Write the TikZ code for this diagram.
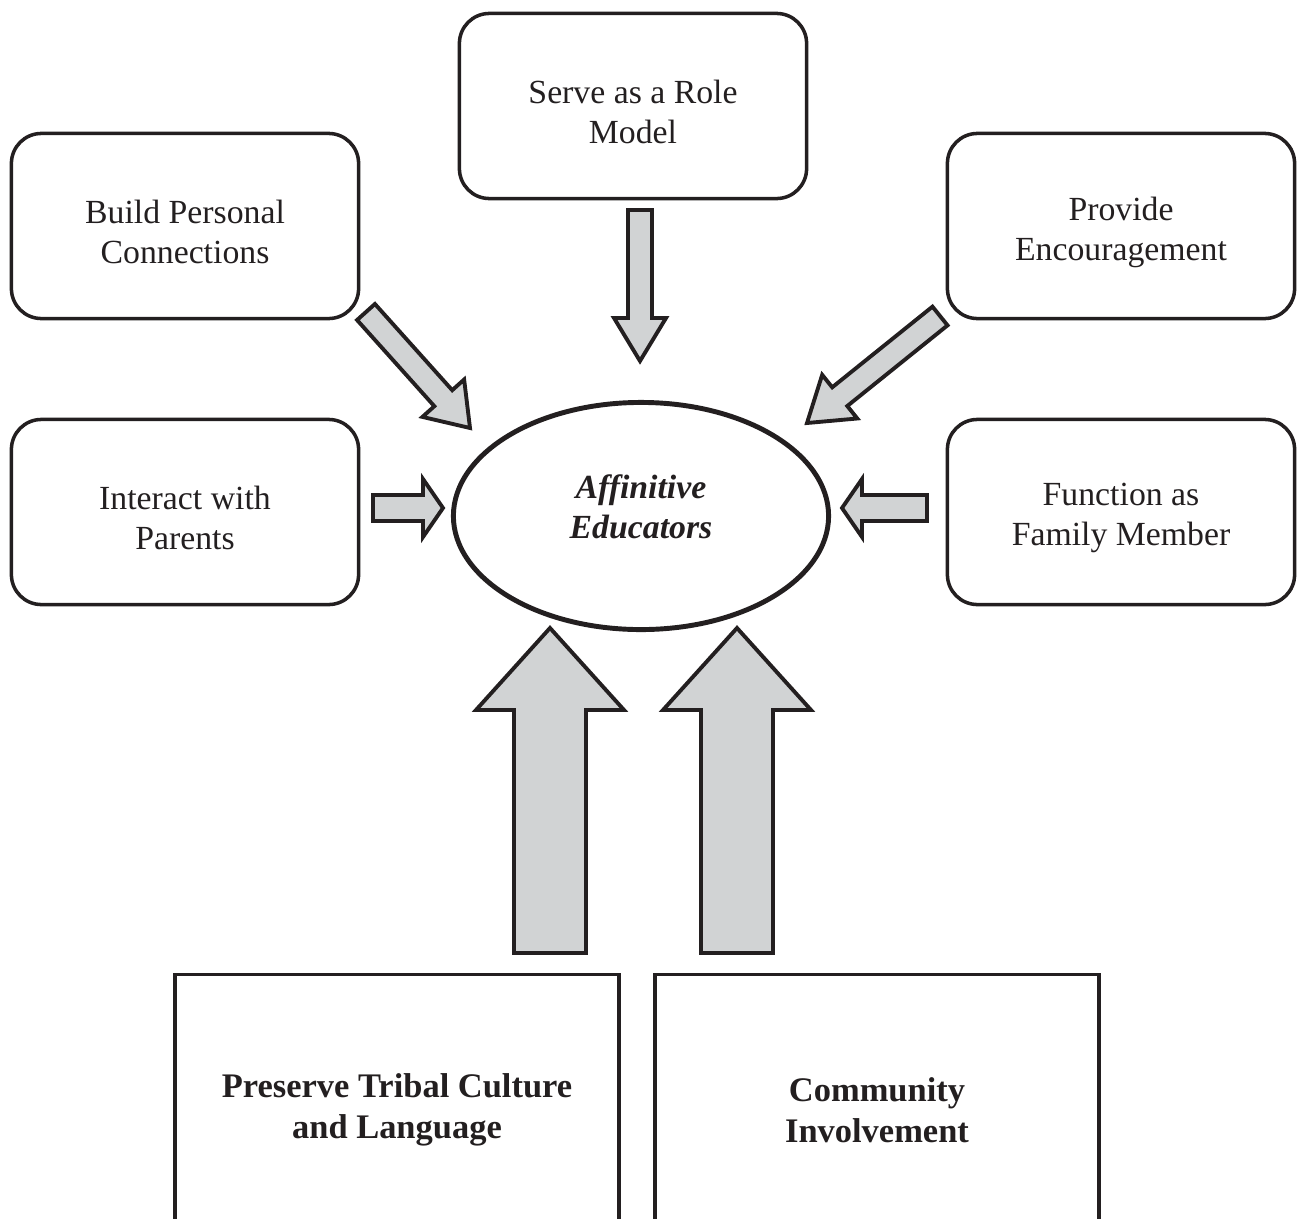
\documentclass[tikz,border=0pt]{standalone}
\usepackage{fontspec}
\setmainfont{Liberation Serif}
\usetikzlibrary{calc,shapes.geometric}
\definecolor{ink}{HTML}{231F20}
\definecolor{pale}{HTML}{D1D3D4}

% block arrow: tail, tip, half shaft width, half head width, head length
\newcommand{\blockarrow}[5]{%
  \coordinate (hb) at ($(#2)!#5!(#1)$);
  \draw[barrow] ($(#1)!#3!90:(#2)$) -- ($(hb)!#3!-90:(#1)$) -- ($(hb)!#4!-90:(#1)$) -- (#2)
    -- ($(hb)!#4!90:(#1)$) -- ($(hb)!#3!90:(#1)$) -- ($(#1)!#3!-90:(#2)$) -- cycle;}

\begin{document}
\begin{tikzpicture}[x=0.01cm, y=-0.01cm, every node/.style={font=\fontsize{9.6}{11.4}\selectfont, text=ink}, box/.style={draw=ink, line width=1pt, rounded corners=3mm, minimum width=3.47cm, minimum height=1.85cm, label={[align=center, yshift=-0.06cm]center:#1}}, basebox/.style={draw=ink, line width=1.1pt, minimum width=4.44cm, minimum height=2.71cm, align=center, font=\fontsize{9.8}{11.6}\selectfont\bfseries}, barrow/.style={draw=ink, line width=1.1pt, fill=pale, line join=miter}]
\useasboundingbox (0,0) rectangle (1303,1218);
\clip (0,0) rectangle (1303,1218);
\node[box={Serve as a Role\\Model}] (role) at (633,106) {};
\node[box={Build Personal\\Connections}] (build) at (185,226) {};
\node[box={Provide\\Encouragement}] (provide) at (1121,226) {};
\node[box={Interact with\\Parents}] (parents) at (185,512) {};
\node[box={Function as\\Family Member}] (family) at (1121,512) {};
\node[ellipse, draw=ink, line width=1.4pt, minimum width=3.75cm, minimum height=2.27cm, inner sep=0pt, label={[align=center, yshift=0.09cm, font=\fontsize{9.6}{11.4}\selectfont\bfseries\itshape]center:Affinitive\\Educators}] (ae) at (641,516) {};
\node[basebox] (tribal) at (397,1110) {Preserve Tribal Culture\\and Language};
\node[basebox] (community) at (877,1110) {Community\\Involvement};
% arrow ends
\coordinate (roleT) at (640,210);
\coordinate (roleH) at (640,361);
\coordinate (buildT) at (366,312);
\coordinate (buildH) at (470,428);
\coordinate (provideT) at (940,316);
\coordinate (provideH) at (807,423);
\coordinate (parentsT) at (373,508);
\coordinate (parentsH) at (443,508);
\coordinate (familyT) at (927,508);
\coordinate (familyH) at (842,508);
\coordinate (tribalT) at (550,953);
\coordinate (tribalH) at (550,628);
\coordinate (communityT) at (737,953);
\coordinate (communityH) at (737,628);
\blockarrow{roleT}{roleH}{0.12cm}{0.26cm}{0.43cm}
\blockarrow{buildT}{buildH}{0.12cm}{0.28cm}{0.40cm}
\blockarrow{provideT}{provideH}{0.12cm}{0.28cm}{0.42cm}
\blockarrow{parentsT}{parentsH}{0.13cm}{0.29cm}{0.20cm}
\blockarrow{familyT}{familyH}{0.13cm}{0.29cm}{0.20cm}
\blockarrow{tribalT}{tribalH}{0.36cm}{0.74cm}{0.82cm}
\blockarrow{communityT}{communityH}{0.36cm}{0.74cm}{0.82cm}
\end{tikzpicture}
\end{document}
